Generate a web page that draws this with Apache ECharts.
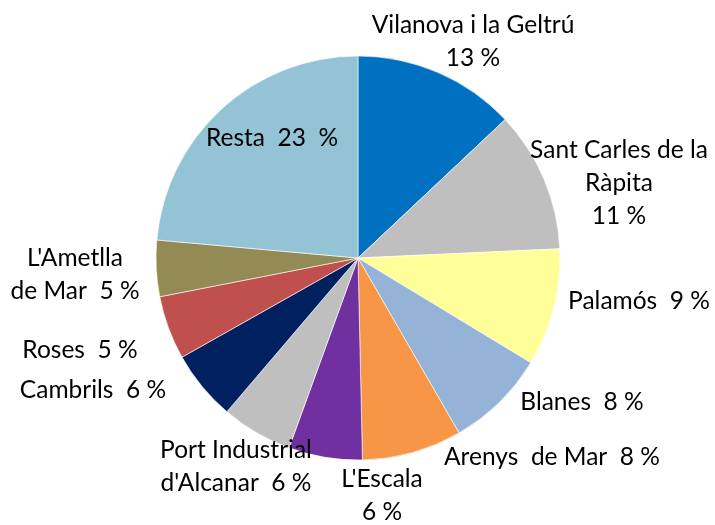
<!DOCTYPE html>
<html>
<head>
<meta charset="utf-8">
<script src="https://cdn.jsdelivr.net/npm/echarts@6/dist/echarts.min.js"></script>
<style>html,body{margin:0;padding:0;background:#fff}#c{width:715px;height:525px}</style>
</head>
<body>
<div id="c"></div>
<script>
// Data (share of total)
var categories = ["Vilanova i la Geltrú","Sant Carles de la Ràpita","Palamós","Blanes","Arenys de Mar","L'Escala","Port Industrial d'Alcanar","Cambrils","Roses","L'Ametlla de Mar","Resta"];
var values = [13.0, 11.3, 9.4, 8.0, 8.0, 5.9, 5.7, 5.6, 5.1, 4.5, 23.6];
var labels = ["Vilanova i la Geltrú\n13 %", "Sant Carles de la\nRàpita\n11 %", "Palamós  9 %", "Blanes  8 %", "Arenys  de Mar  8 %", "L'Escala\n6 %", "Port Industrial\nd'Alcanar  6 %", "Cambrils  6 %", "Roses  5 %", "L'Ametlla\nde Mar  5 %", "Resta  23  %"];

var colors = ["#0070C0","#BFBFBF","#FFFF99","#95B3D7","#F79646","#7030A0","#BFBFBF","#002060","#C0504D","#948A54","#93C3D5"];
var labelPos = [[473,42],[619,183],[639,301],[582,402],[552,457],[382,496],[236,467],[93,390],[80,350],[75,275],[272,138]];

var chart = echarts.init(document.getElementById('c'), null, {renderer:'canvas'});
var data = categories.map(function(n,i){ return {name:n, value:values[i], itemStyle:{color:colors[i]}}; });
chart.setOption({
  animation:false,
  series:[{
    type:'pie',
    center:[358,258],
    radius:202,
    startAngle:90,
    clockwise:true,
    avoidLabelOverlap:false,
    data:data,
    itemStyle:{borderColor:'#ffffff', borderWidth:0.6},
    label:{
      show:true,
      position:'outside',
      formatter:function(p){ return labels[p.dataIndex]; },
      fontFamily:'Lato',
      fontSize:24.5,
      color:'#000',
      lineHeight:33,
      align:'center'
    },
    labelLine:{show:false},
    labelLayout:function(params){
      var pos = labelPos[params.dataIndex];
      return {x:pos[0], y:pos[1], align:'center', verticalAlign:'middle', hideOverlap:false};
    }
  }]
});
</script>
</body>
</html>
